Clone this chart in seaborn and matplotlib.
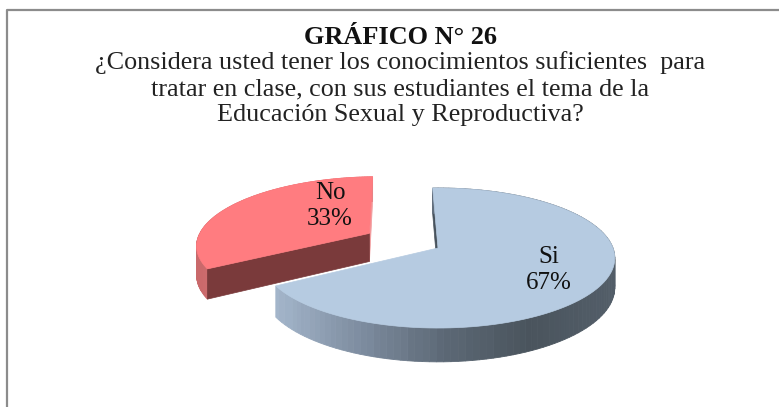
import numpy as np
import matplotlib
matplotlib.use("Agg")
import matplotlib.pyplot as plt
import seaborn as sns

# ----------------------------
# DATA
# ----------------------------

categories = ["Si", "No"]
values = [67, 33]

title = "GRÁFICO N° 26"
question = ["¿Considera usted tener los conocimientos suficientes  para",
            "tratar en clase, con sus estudiantes el tema de la",
            "Educación Sexual y Reproductiva?"]

# ----------------------------
# STYLE / LAYOUT
# ----------------------------

sns.set_theme(style="white")
plt.rcParams["font.family"] = ["Liberation Serif", "DejaVu Serif"]

CX, CY = 438, 248     # pie centre in pixels
A, B = 175, 68.6      # ellipse radii
K = 1 / 7             # perspective
DEPTH = 29
START = 92            # degrees, slices run clockwise
EXPLODE = [0, 0.46]

top_colors = ["#b6cbe1", "#ff7c80"]
wall_colors = [sns.blend_palette(["#a3b5ca", "#7d8c9f", "#5c6875", "#4a545d", "#535e69"], 60),
               sns.blend_palette(["#c9696b", "#e57577", "#e88083"], 60)]
sliver_colors = ["#48535d", "#f29a9c"]
cut_color = "#7a3a3b"


def project(u, v, drop=0.0):
    p = 1 / (1 + K * v)
    return CX + A * u * p, CY - B * v * p + drop * p


def outline(u0, v0, a0, a1, n=120):
    th = np.radians(np.linspace(a0, a1, n))
    return u0 + np.cos(th), v0 + np.sin(th)


def side_face(ax, u, v, u0, v0, color):
    tx = np.array([u, u0])
    ty = np.array([v, v0])
    x1, y1 = project(tx, ty)
    x2, y2 = project(tx, ty, DEPTH)
    ax.fill(np.r_[x1, x2[::-1]], np.r_[y1, y2[::-1]], color=color, lw=0.5)


fig = plt.figure(figsize=(7.79, 4.07), dpi=100)
ax = fig.add_axes([0, 0, 1, 1])
ax.set_xlim(0, 779)
ax.set_ylim(407, 0)
ax.axis("off")

# frame of the pasted chart
ax.plot([7.5, 7.5, 779], [407, 9.5, 9.5], color="#8c8c8c", lw=1.6, solid_capstyle="butt")

# ----------------------------
# PIE
# ----------------------------

angles = START - np.cumsum([0] + values) * 360 / sum(values)

for i in [1, 0]:
    a0, a1 = angles[i], angles[i + 1]
    mid = np.radians((a0 + a1) / 2)
    u0, v0 = EXPLODE[i] * np.cos(mid), EXPLODE[i] * np.sin(mid)
    u, v = outline(u0, v0, a0, a1)

    # the flat cuts: Si shows a sliver at the top, No a pink sliver and the dark face
    if i == 0:
        side_face(ax, u[0], v[0], u0, v0, sliver_colors[0])
    else:
        side_face(ax, u[-1], v[-1], u0, v0, sliver_colors[1])

    # outer wall, strip by strip, left light and right dark
    x1, y1 = project(u, v)
    x2, y2 = project(u, v, DEPTH)
    pal = wall_colors[i]
    for j in range(len(u) - 1):
        frac = (x1[j] - x1.min()) / (x1.max() - x1.min())
        col = pal[int(frac * (len(pal) - 1))]
        ax.fill([x1[j], x1[j + 1], x2[j + 1], x2[j]], [y1[j], y1[j + 1], y2[j + 1], y2[j]],
                color=col, lw=0.6)

    if i == 1:
        side_face(ax, u[0], v[0], u0, v0, cut_color)

    # top face
    xt, yt = project(np.r_[u0, u], np.r_[v0, v])
    ax.fill(xt, yt, color=top_colors[i], lw=0.5)

# ----------------------------
# TEXT
# ----------------------------

ax.text(401, 44.5, title, ha="center", va="baseline", fontsize=18.9, fontweight="bold", color="#111111")
for txt, y in zip(question, [69.5, 95, 121.5]):
    ax.text(400, y, txt, ha="center", va="baseline", fontsize=18.8, color="#222222")

label_pos = {"Si": (549, 270), "No": (330, 206)}
for cat, val in zip(categories, values):
    x, y = label_pos[cat]
    ax.text(x, y, f"{cat}\n{val}%", ha="center", va="center", fontsize=18, linespacing=1.25, color="#111111")

plt.savefig("out.png", dpi=100)
